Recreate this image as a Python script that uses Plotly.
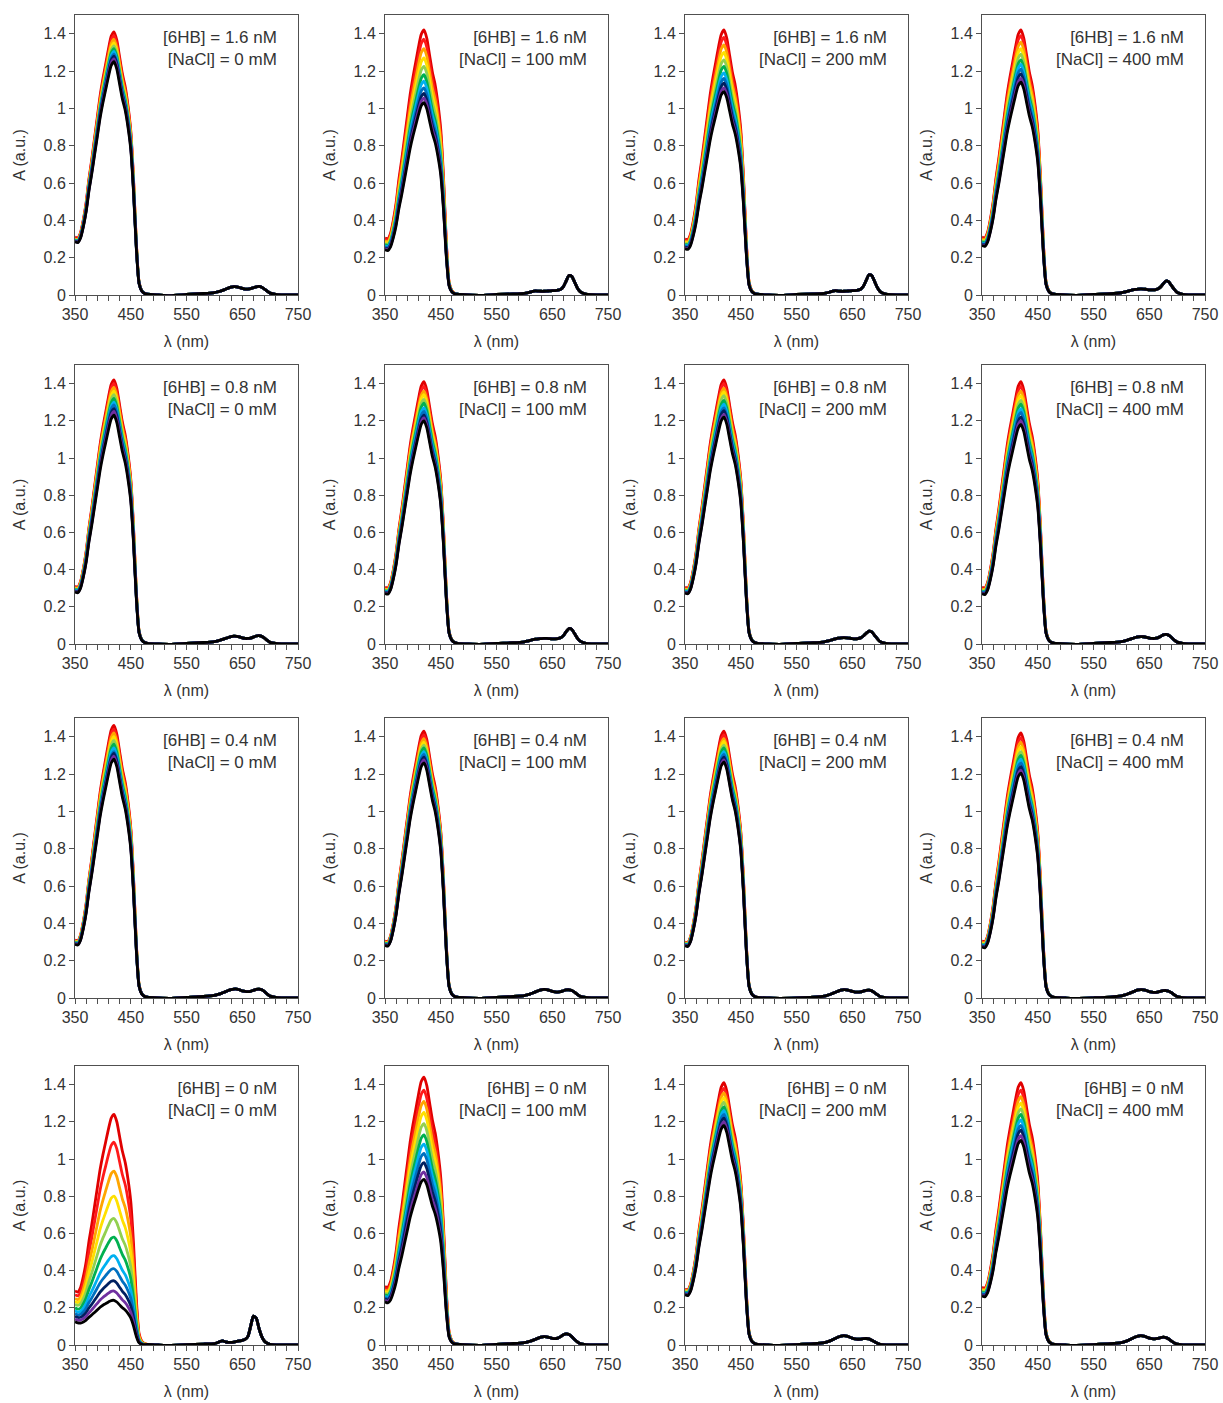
import plotly.graph_objects as go

# ---------------------------------------------------------------------------
# Data
# ---------------------------------------------------------------------------
HB_CONC = ["1.6", "0.8", "0.4", "0"]          # rows, nM
NACL_CONC = ["0", "100", "200", "400"]         # columns, mM

# Soret region sampling (nm)
SORET_WL = [350, 355, 360, 365, 370, 375, 380, 385, 390, 395, 400, 405, 410,
            415, 420, 425, 430, 435, 440, 445, 450, 455, 460, 465, 470, 475]
# reference spectrum in the Soret region (last trace, 1.6 nM / 0 mM)
REF_SPECTRUM = [0.29, 0.285, 0.31, 0.37, 0.45, 0.56, 0.65, 0.75, 0.85, 0.95,
                1.03, 1.10, 1.17, 1.23, 1.25, 1.21, 1.13, 1.05, 0.99, 0.90,
                0.78, 0.55, 0.25, 0.06, 0.02, 0.008]
REF_PEAK = 1.25
REF_EDGE = 0.29
# scattering / background profile, normalised to 1 at 350 nm
BACKGROUND = [1.0, 0.93, 0.87, 0.82, 0.78, 0.74, 0.71, 0.68, 0.65, 0.62,
              0.59, 0.56, 0.53, 0.50, 0.47, 0.44, 0.41, 0.38, 0.35, 0.30,
              0.24, 0.16, 0.07, 0.02, 0.0, 0.0]

# Q-band region sampling (nm)
Q_WL = [480, 500, 520, 550, 580, 600, 605, 610, 615, 620, 625, 630, 635, 640,
        645, 650, 655, 660, 665, 670, 675, 680, 685, 690, 695, 700, 710, 720, 750]

# Q-band absorbance per panel (row-major: [6HB] rows x [NaCl] columns)
Q_BANDS = [
    [0.004, 0.0, -0.003, 0.003, 0.008, 0.013, 0.016, 0.02, 0.025, 0.031, 0.037, 0.042, 0.045, 0.044,
     0.04, 0.035, 0.032, 0.032, 0.034, 0.039, 0.044, 0.046, 0.042, 0.032, 0.02, 0.01, 0.003, 0.001, 0.0],
    [0.004, 0.0, -0.002, 0.003, 0.006, 0.009, 0.011, 0.015, 0.02, 0.022, 0.021, 0.02, 0.02, 0.021,
     0.022, 0.023, 0.024, 0.026, 0.03, 0.045, 0.075, 0.104, 0.1, 0.07, 0.038, 0.018, 0.005, 0.002, 0.0],
    [0.004, 0.0, -0.002, 0.003, 0.006, 0.009, 0.012, 0.016, 0.021, 0.023, 0.021, 0.02, 0.02, 0.021,
     0.022, 0.023, 0.024, 0.026, 0.031, 0.047, 0.078, 0.108, 0.104, 0.073, 0.04, 0.018, 0.005, 0.002, 0.0],
    [0.004, 0.0, -0.002, 0.003, 0.007, 0.012, 0.015, 0.019, 0.023, 0.027, 0.03, 0.032, 0.033, 0.032,
     0.03, 0.028, 0.027, 0.028, 0.032, 0.042, 0.06, 0.075, 0.07, 0.05, 0.03, 0.014, 0.004, 0.001, 0.0],
    [0.004, 0.0, -0.002, 0.003, 0.008, 0.013, 0.016, 0.02, 0.025, 0.03, 0.035, 0.04, 0.042, 0.041,
     0.038, 0.033, 0.03, 0.03, 0.032, 0.037, 0.043, 0.045, 0.041, 0.031, 0.019, 0.009, 0.003, 0.001, 0.0],
    [0.004, 0.0, -0.002, 0.003, 0.007, 0.012, 0.015, 0.019, 0.023, 0.026, 0.028, 0.029, 0.03, 0.03,
     0.029, 0.028, 0.028, 0.029, 0.033, 0.045, 0.066, 0.083, 0.079, 0.056, 0.032, 0.015, 0.004, 0.001, 0.0],
    [0.004, 0.0, -0.002, 0.003, 0.007, 0.012, 0.015, 0.019, 0.024, 0.028, 0.031, 0.033, 0.034, 0.033,
     0.031, 0.029, 0.028, 0.029, 0.033, 0.043, 0.058, 0.069, 0.065, 0.047, 0.028, 0.013, 0.004, 0.001, 0.0],
    [0.004, 0.0, -0.002, 0.003, 0.008, 0.013, 0.016, 0.02, 0.025, 0.03, 0.035, 0.038, 0.04, 0.039,
     0.036, 0.032, 0.03, 0.03, 0.033, 0.04, 0.049, 0.052, 0.047, 0.035, 0.021, 0.01, 0.003, 0.001, 0.0],
    [0.004, 0.0, -0.002, 0.003, 0.008, 0.014, 0.018, 0.022, 0.028, 0.034, 0.04, 0.045, 0.048, 0.048,
     0.044, 0.038, 0.035, 0.034, 0.036, 0.041, 0.046, 0.048, 0.044, 0.034, 0.021, 0.01, 0.003, 0.001, 0.0],
    [0.004, 0.0, -0.002, 0.003, 0.008, 0.013, 0.017, 0.021, 0.027, 0.033, 0.039, 0.044, 0.046, 0.045,
     0.041, 0.036, 0.033, 0.032, 0.034, 0.039, 0.043, 0.044, 0.04, 0.031, 0.019, 0.009, 0.003, 0.001, 0.0],
    [0.003, 0.0, -0.002, 0.0, 0.004, 0.01, 0.014, 0.019, 0.025, 0.031, 0.037, 0.042, 0.045, 0.044,
     0.04, 0.035, 0.032, 0.031, 0.033, 0.037, 0.041, 0.042, 0.038, 0.029, 0.018, 0.008, 0.002, 0.001, 0.0],
    [0.003, 0.0, -0.002, 0.001, 0.005, 0.011, 0.015, 0.02, 0.026, 0.032, 0.038, 0.043, 0.045, 0.044,
     0.04, 0.034, 0.031, 0.03, 0.032, 0.036, 0.039, 0.04, 0.036, 0.028, 0.017, 0.008, 0.002, 0.001, 0.0],
    [0.003, 0.0, -0.002, 0.002, 0.005, 0.008, 0.012, 0.019, 0.022, 0.017, 0.014, 0.014, 0.016, 0.019,
     0.022, 0.025, 0.03, 0.045, 0.1, 0.155, 0.145, 0.09, 0.045, 0.02, 0.009, 0.004, 0.001, 0.0, 0.0],
    [0.004, 0.0, -0.002, 0.003, 0.008, 0.013, 0.016, 0.02, 0.025, 0.031, 0.037, 0.042, 0.045, 0.044,
     0.04, 0.036, 0.034, 0.037, 0.045, 0.055, 0.06, 0.057, 0.045, 0.03, 0.017, 0.008, 0.002, 0.001, 0.0],
    [0.003, 0.0, -0.002, 0.002, 0.007, 0.013, 0.017, 0.022, 0.029, 0.036, 0.043, 0.048, 0.05, 0.048,
     0.043, 0.037, 0.033, 0.031, 0.032, 0.034, 0.035, 0.033, 0.026, 0.017, 0.009, 0.004, 0.001, 0.0, 0.0],
    [0.003, 0.0, -0.002, 0.002, 0.007, 0.013, 0.017, 0.022, 0.029, 0.036, 0.043, 0.048, 0.05, 0.048,
     0.043, 0.037, 0.034, 0.033, 0.035, 0.039, 0.042, 0.04, 0.032, 0.021, 0.011, 0.005, 0.001, 0.0, 0.0],
]

# Soret maximum (420 nm) of each trace, first to last trace of the series
PEAKS = [
    [1.41, 1.39, 1.37, 1.35, 1.335, 1.32, 1.305, 1.29, 1.28, 1.265, 1.25],
    [1.42, 1.37, 1.32, 1.27, 1.225, 1.18, 1.145, 1.11, 1.08, 1.055, 1.03],
    [1.42, 1.38, 1.34, 1.30, 1.26, 1.225, 1.19, 1.16, 1.135, 1.11, 1.09],
    [1.42, 1.39, 1.355, 1.32, 1.29, 1.26, 1.235, 1.21, 1.185, 1.16, 1.14],
    [1.42, 1.40, 1.38, 1.36, 1.34, 1.32, 1.30, 1.285, 1.265, 1.25, 1.23],
    [1.41, 1.385, 1.36, 1.34, 1.315, 1.295, 1.27, 1.25, 1.23, 1.215, 1.20],
    [1.42, 1.40, 1.375, 1.355, 1.335, 1.31, 1.29, 1.27, 1.255, 1.235, 1.22],
    [1.41, 1.385, 1.36, 1.335, 1.31, 1.29, 1.265, 1.245, 1.22, 1.20, 1.18],
    [1.46, 1.44, 1.42, 1.40, 1.38, 1.36, 1.34, 1.32, 1.31, 1.295, 1.28],
    [1.43, 1.41, 1.39, 1.37, 1.355, 1.34, 1.32, 1.305, 1.29, 1.275, 1.26],
    [1.43, 1.41, 1.39, 1.375, 1.355, 1.34, 1.32, 1.305, 1.29, 1.275, 1.265],
    [1.42, 1.395, 1.37, 1.345, 1.32, 1.30, 1.28, 1.26, 1.24, 1.22, 1.205],
    [1.24, 1.09, 0.935, 0.80, 0.68, 0.58, 0.48, 0.41, 0.345, 0.29, 0.24],
    [1.44, 1.37, 1.31, 1.25, 1.19, 1.13, 1.08, 1.03, 0.98, 0.93, 0.89],
    [1.41, 1.38, 1.355, 1.33, 1.305, 1.28, 1.26, 1.24, 1.22, 1.20, 1.18],
    [1.41, 1.37, 1.335, 1.30, 1.27, 1.24, 1.21, 1.18, 1.155, 1.125, 1.10],
]

# absorbance at 350 nm of each trace
EDGES = [
    [0.31, 0.305, 0.30, 0.30, 0.297, 0.295, 0.293, 0.291, 0.289, 0.287, 0.285],
    [0.305, 0.298, 0.29, 0.283, 0.276, 0.27, 0.264, 0.258, 0.252, 0.247, 0.242],
    [0.30, 0.294, 0.288, 0.283, 0.277, 0.272, 0.267, 0.262, 0.257, 0.252, 0.248],
    [0.31, 0.305, 0.30, 0.295, 0.29, 0.285, 0.28, 0.276, 0.272, 0.268, 0.265],
    [0.31, 0.307, 0.304, 0.30, 0.297, 0.294, 0.291, 0.288, 0.285, 0.282, 0.28],
    [0.305, 0.30, 0.297, 0.293, 0.29, 0.287, 0.284, 0.281, 0.278, 0.275, 0.272],
    [0.305, 0.30, 0.297, 0.293, 0.29, 0.287, 0.284, 0.281, 0.278, 0.276, 0.274],
    [0.305, 0.30, 0.296, 0.292, 0.288, 0.285, 0.282, 0.279, 0.276, 0.273, 0.27],
    [0.31, 0.307, 0.305, 0.303, 0.30, 0.298, 0.296, 0.294, 0.292, 0.29, 0.288],
    [0.305, 0.302, 0.30, 0.297, 0.295, 0.293, 0.29, 0.288, 0.286, 0.284, 0.282],
    [0.30, 0.298, 0.296, 0.294, 0.292, 0.29, 0.288, 0.286, 0.284, 0.282, 0.28],
    [0.305, 0.301, 0.298, 0.294, 0.291, 0.288, 0.285, 0.282, 0.279, 0.276, 0.273],
    [0.29, 0.27, 0.25, 0.235, 0.22, 0.20, 0.185, 0.17, 0.155, 0.14, 0.125],
    [0.315, 0.305, 0.296, 0.287, 0.278, 0.27, 0.262, 0.255, 0.248, 0.24, 0.232],
    [0.30, 0.297, 0.294, 0.291, 0.288, 0.285, 0.282, 0.279, 0.276, 0.273, 0.27],
    [0.31, 0.305, 0.30, 0.295, 0.29, 0.285, 0.28, 0.276, 0.272, 0.268, 0.264],
]

TRACE_COLORS = ["#E00000", "#FF1A1A", "#FFA500", "#FFE000", "#92D050", "#00B050",
                "#00B0F0", "#0070C0", "#002060", "#7030A0", "#000000"]

X_TICKS = [350, 450, 550, 650, 750]
Y_TICKS = [0, 0.2, 0.4, 0.6, 0.8, 1, 1.2, 1.4]

# ---------------------------------------------------------------------------
# Layout geometry (pixels)
# ---------------------------------------------------------------------------
W, H = 1223, 1403
COL_LEFT = [75, 385, 685, 982]
PANEL_W = 223
ROW_TOP = [15, 365, 718, 1066]
ROW_BOTTOM = [295, 644, 998, 1345]

FONT = "Liberation Sans, Arial, sans-serif"
TEXT_COLOR = "#333333"
FRAME_COLOR = "#505050"

b420 = BACKGROUND[SORET_WL.index(420)]
soret_norm = [(r - REF_EDGE * b) / (REF_PEAK - REF_EDGE * b420)
              for r, b in zip(REF_SPECTRUM, BACKGROUND)]

fig = go.Figure()
layout = {}
annotations = []

for r in range(4):
    for c in range(4):
        p = r * 4 + c
        n = p + 1
        xa = "x" if n == 1 else f"x{n}"
        ya = "y" if n == 1 else f"y{n}"
        xkey = "xaxis" if n == 1 else f"xaxis{n}"
        ykey = "yaxis" if n == 1 else f"yaxis{n}"

        wl = SORET_WL + Q_WL
        for k, color in enumerate(TRACE_COLORS):
            edge = EDGES[p][k]
            peak = PEAKS[p][k]
            soret = [edge * b + (peak - edge * b420) * s
                     for b, s in zip(BACKGROUND, soret_norm)]
            absorb = soret + Q_BANDS[p]
            fig.add_trace(go.Scatter(
                x=wl, y=absorb, mode="lines", xaxis=xa, yaxis=ya,
                line=dict(color=color, width=2.8, shape="spline", smoothing=0.6),
                showlegend=False, hoverinfo="skip"))

        x0 = COL_LEFT[c] / W
        x1 = (COL_LEFT[c] + PANEL_W) / W
        y0 = 1 - ROW_BOTTOM[r] / H
        y1 = 1 - ROW_TOP[r] / H

        layout[xkey] = dict(
            domain=[x0, x1], anchor=ya, range=[350, 750], automargin=False,
            tickvals=X_TICKS, ticktext=[str(v) for v in X_TICKS],
            ticks="outside", ticklen=5, tickcolor=FRAME_COLOR, tickwidth=1,
            minor=dict(dtick=20, tick0=350, ticks="outside", ticklen=5,
                       tickcolor=FRAME_COLOR, tickwidth=1, showgrid=False),
            showline=True, linecolor=FRAME_COLOR, linewidth=1, mirror=True,
            showgrid=False, zeroline=False,
            tickfont=dict(family=FONT, size=16, color=TEXT_COLOR),
            title=dict(text="λ (nm)", standoff=13,
                       font=dict(family=FONT, size=16, color=TEXT_COLOR)))
        layout[ykey] = dict(
            domain=[y0, y1], anchor=xa, range=[0, 1.5], automargin=False,
            tickvals=Y_TICKS, ticktext=[f"{v:g}" for v in Y_TICKS],
            ticks="outside", ticklen=5, tickcolor=FRAME_COLOR, tickwidth=1,
            showline=True, linecolor=FRAME_COLOR, linewidth=1, mirror=True,
            showgrid=False, zeroline=False,
            tickfont=dict(family=FONT, size=16, color=TEXT_COLOR),
            title=dict(text="A (a.u.)", standoff=13,
                       font=dict(family=FONT, size=16, color=TEXT_COLOR)))

        annotations.append(dict(
            xref=f"{xa} domain", yref=f"{ya} domain", x=0.915, y=0.96,
            xanchor="right", yanchor="top", align="right", showarrow=False,
            text=f"[6HB] = {HB_CONC[r]} nM<br>[NaCl] = {NACL_CONC[c]} mM",
            font=dict(family=FONT, size=17, color=TEXT_COLOR)))

fig.update_layout(
    width=W, height=H, margin=dict(l=0, r=0, t=0, b=0),
    paper_bgcolor="white", plot_bgcolor="white",
    annotations=annotations, **layout)

fig.write_html("out.html")
